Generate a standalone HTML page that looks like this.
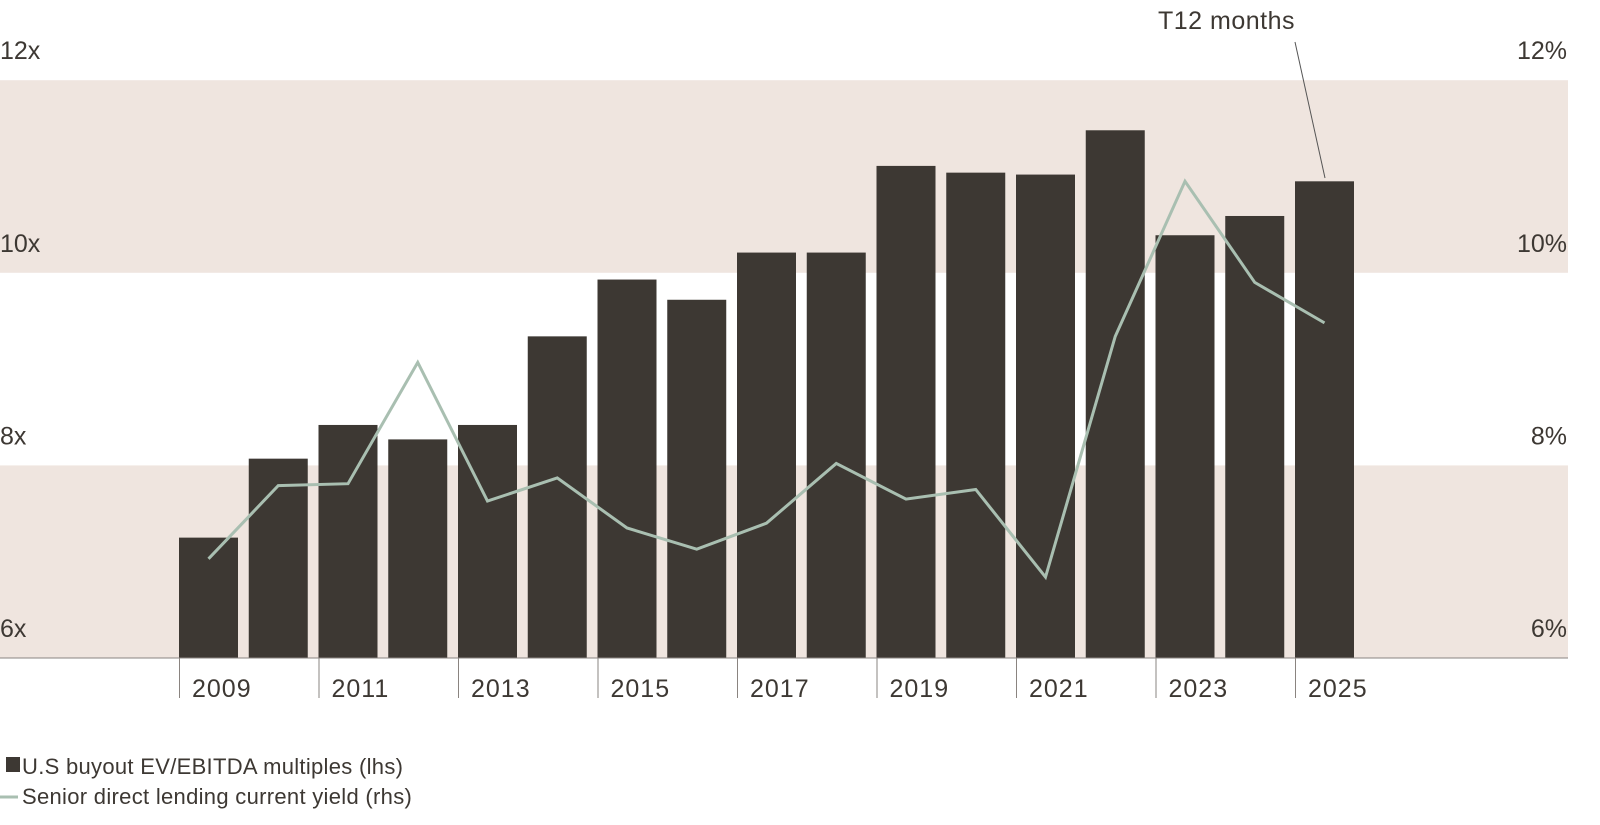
<!DOCTYPE html>
<html><head><meta charset="utf-8"><style>
html,body{margin:0;padding:0;background:#fff;font-family:"Liberation Sans",sans-serif;overflow:hidden;}
svg{display:block;}
svg text{font-family:"Liberation Sans",sans-serif;fill:#3d3833;}
</style></head><body>
<svg width="1600" height="825" xmlns="http://www.w3.org/2000/svg">
<g id="bands"></g><g id="bars"></g><g id="axis"></g><g id="line"></g><g id="labels"></g>
<g>
<text x="1158" y="29" font-size="25" letter-spacing="0.5">T12 months</text>
<line x1="1295" y1="42" x2="1325" y2="178" stroke="#555" stroke-width="1"/>
</g>
<g>
<rect x="6" y="757" width="14" height="15" fill="#3d3833"/>
<text x="22" y="774" font-size="22" letter-spacing="0.3">U.S buyout EV/EBITDA multiples (lhs)</text>
<line x1="0" y1="797" x2="18" y2="797" stroke="#a9bfb1" stroke-width="3"/>
<text x="22" y="804" font-size="22" letter-spacing="0.3">Senior direct lending current yield (rhs)</text>
</g>
</svg>
<script>
const years=[2009,2010,2011,2012,2013,2014,2015,2016,2017,2018,2019,2020,2021,2022,2023,2024,2025];
const multiples=[7.25,8.07,8.42,8.27,8.42,9.34,9.93,9.72,10.21,10.21,11.11,11.04,11.02,11.48,10.39,10.59,10.95];
const yields=[7.03,7.79,7.81,9.07,7.63,7.87,7.35,7.13,7.40,8.02,7.65,7.75,6.84,9.34,10.95,9.90,9.48];
const leftTicks=["6x","8x","10x","12x"];
const leftVals=[6,8,10,12];
const rightTicks=["6%","8%","10%","12%"];
const ns="http://www.w3.org/2000/svg";
const y0=658,pxPer=96.3;
function y(v){return y0-(v-6)*pxPer;}
function x(i){return 179+i*69.75;}
const bw=59;
function mk(t,a,p){const e=document.createElementNS(ns,t);for(const k in a)e.setAttribute(k,a[k]);document.getElementById(p).appendChild(e);return e;}
[[6,8],[10,12]].forEach(b=>{const r=mk('rect',{x:0,y:y(b[1]),width:1568,height:y(b[0])-y(b[1]),fill:'#efe5df'},'bands');

});
years.forEach((yr,i)=>{const r=mk('rect',{x:x(i),y:y(multiples[i]),width:bw,height:y0-y(multiples[i]),fill:'#3d3833'},'bars');

});
const ax=mk('line',{x1:0,y1:y0,x2:1568,y2:y0,stroke:'#8a8480','stroke-width':1},'axis');


years.forEach((yr,i)=>{if(i%2)return;
const t=mk('line',{x1:x(i)+0.5,y1:y0,x2:x(i)+0.5,y2:698,stroke:'#8a8480','stroke-width':1},'axis');


const l=mk('text',{x:x(i)+13,y:697,'font-size':25,'letter-spacing':1},'labels');l.textContent=yr;

});
leftVals.forEach((v,i)=>{const l=mk('text',{x:0,y:y(v)-21,'font-size':25},'labels');l.textContent=leftTicks[i];


const r=mk('text',{x:1567,y:y(v)-21,'font-size':25,'text-anchor':'end'},'labels');r.textContent=rightTicks[i];

});
const pts=yields.map((v,i)=>(x(i)+bw/2)+','+y(v)).join(' ');
const pl=mk('polyline',{points:pts,fill:'none',stroke:'#a9bfb1','stroke-width':3,'stroke-linejoin':'miter'},'line');


</script>
</body></html>
